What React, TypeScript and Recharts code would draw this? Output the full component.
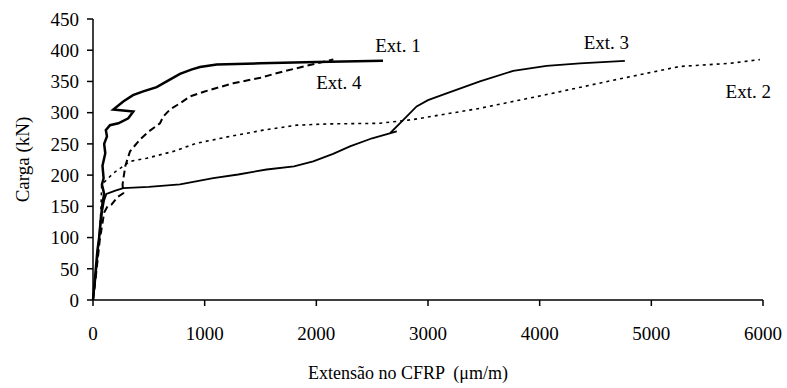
import { LineChart, Line, XAxis, YAxis, Label, ReferenceDot } from "recharts";

type Pt = { x: number; y: number };

const ext1: Pt[] = [
  { x: 0, y: 0 }, { x: 10, y: 20 }, { x: 25, y: 50 }, { x: 40, y: 80 }, { x: 55, y: 100 },
  { x: 70, y: 130 }, { x: 85, y: 155 }, { x: 100, y: 170 }, { x: 80, y: 185 }, { x: 95, y: 195 },
  { x: 85, y: 215 }, { x: 110, y: 235 }, { x: 100, y: 250 }, { x: 125, y: 262 }, { x: 115, y: 272 },
  { x: 152, y: 280 }, { x: 227, y: 283 }, { x: 316, y: 291 }, { x: 361, y: 302 }, { x: 182, y: 305 },
  { x: 271, y: 318 }, { x: 358, y: 328 }, { x: 450, y: 334 }, { x: 570, y: 341 }, { x: 680, y: 352 },
  { x: 779, y: 362 }, { x: 880, y: 369 }, { x: 958, y: 373 }, { x: 1108, y: 377 }, { x: 1500, y: 379 },
  { x: 2000, y: 381 }, { x: 2597, y: 383 },
];

const ext2: Pt[] = [
  { x: 0, y: 0 }, { x: 30, y: 50 }, { x: 55, y: 100 }, { x: 70, y: 140 }, { x: 78, y: 185 },
  { x: 182, y: 203 }, { x: 331, y: 222 }, { x: 481, y: 227 }, { x: 719, y: 238 }, { x: 928, y: 251 },
  { x: 1227, y: 262 }, { x: 1525, y: 272 }, { x: 1823, y: 280 }, { x: 2122, y: 282 }, { x: 2570, y: 283 },
  { x: 2867, y: 289 }, { x: 3465, y: 307 }, { x: 4062, y: 329 }, { x: 4659, y: 352 }, { x: 5255, y: 374 },
  { x: 5703, y: 379 }, { x: 5972, y: 385 },
];

const ext3: Pt[] = [
  { x: 0, y: 0 }, { x: 20, y: 30 }, { x: 40, y: 70 }, { x: 60, y: 110 }, { x: 80, y: 140 },
  { x: 100, y: 160 }, { x: 120, y: 170 }, { x: 152, y: 172 }, { x: 200, y: 175 }, { x: 271, y: 179 },
  { x: 500, y: 181 }, { x: 779, y: 185 }, { x: 1077, y: 195 }, { x: 1300, y: 201 }, { x: 1555, y: 209 },
  { x: 1800, y: 214 }, { x: 1972, y: 222 }, { x: 2150, y: 234 }, { x: 2301, y: 246 }, { x: 2500, y: 259 },
  { x: 2720, y: 270 }, { x: 2659, y: 267 }, { x: 2748, y: 283 }, { x: 2898, y: 310 }, { x: 3000, y: 320 },
  { x: 3166, y: 331 }, { x: 3465, y: 350 }, { x: 3763, y: 367 }, { x: 4062, y: 375 }, { x: 4360, y: 379 },
  { x: 4763, y: 383 },
];

const ext4: Pt[] = [
  { x: 0, y: 0 }, { x: 30, y: 45 }, { x: 60, y: 95 }, { x: 100, y: 140 }, { x: 130, y: 150 },
  { x: 167, y: 153 }, { x: 220, y: 165 }, { x: 271, y: 171 }, { x: 265, y: 185 }, { x: 271, y: 193 },
  { x: 290, y: 215 }, { x: 331, y: 238 }, { x: 421, y: 257 }, { x: 500, y: 270 }, { x: 600, y: 283 },
  { x: 630, y: 294 }, { x: 689, y: 305 }, { x: 779, y: 315 }, { x: 868, y: 326 }, { x: 1000, y: 334 },
  { x: 1256, y: 347 }, { x: 1500, y: 356 }, { x: 1704, y: 366 }, { x: 2003, y: 379 }, { x: 2152, y: 385 },
];

const xTicks = [0, 1000, 2000, 3000, 4000, 5000, 6000];
const yTicks = [0, 50, 100, 150, 200, 250, 300, 350, 400, 450];

// series name tags, placed in data units
const tags = [
  { name: "Ext. 1", x: 2731, y: 408 },
  { name: "Ext. 4", x: 2202, y: 349 },
  { name: "Ext. 3", x: 4597, y: 412 },
  { name: "Ext. 2", x: 5868, y: 335 },
];

const font = "'Liberation Serif', 'Times New Roman', serif";
const tickStyle = { fontSize: 19, fill: "#000", fontFamily: font };

export default function App() {
  return (
    <div style={{ width: 787, height: 388 }}>
      <style>{"body{margin:0}"}</style>
      <LineChart width={787} height={388} margin={{ top: 19, right: 24, bottom: 0, left: 0 }}>
        <XAxis
          type="number"
          dataKey="x"
          domain={[0, 6000]}
          ticks={xTicks}
          height={88}
          tick={tickStyle}
          tickSize={6}
          tickMargin={21}
          stroke="#000"
          strokeWidth={1.5}
        >
          <Label
            content={({ viewBox }: any) => (
              <text
                x={viewBox.x + viewBox.width / 2 - 20}
                y={viewBox.y + viewBox.height - 9}
                textAnchor="middle"
                style={{ fontSize: 18, fill: "#000", fontFamily: font }}
              >
                {"Extensão no CFRP \u00a0(μm/m)"}
              </text>
            )}
          />
        </XAxis>
        <YAxis
          type="number"
          dataKey="y"
          domain={[0, 450]}
          ticks={yTicks}
          width={93}
          tick={tickStyle}
          tickSize={6}
          tickMargin={8}
          stroke="#000"
          strokeWidth={1.5}
        >
          <Label
            content={({ viewBox }: any) => {
              const cx = viewBox.x + 22;
              const cy = viewBox.y + viewBox.height / 2;
              return (
                <text
                  x={cx}
                  y={cy}
                  transform={`rotate(-90, ${cx}, ${cy})`}
                  textAnchor="middle"
                  dominantBaseline="central"
                  style={{ fontSize: 19, fill: "#000", fontFamily: font }}
                >
                  Carga (kN)
                </text>
              );
            }}
          />
        </YAxis>
        <Line data={ext2} dataKey="y" type="linear" stroke="#000" strokeWidth={1.6} strokeDasharray="3 4" dot={false} isAnimationActive={false} />
        <Line data={ext4} dataKey="y" type="linear" stroke="#000" strokeWidth={2} strokeDasharray="7 4" dot={false} isAnimationActive={false} />
        <Line data={ext3} dataKey="y" type="linear" stroke="#000" strokeWidth={1.8} dot={false} isAnimationActive={false} />
        <Line data={ext1} dataKey="y" type="linear" stroke="#000" strokeWidth={2.5} dot={false} isAnimationActive={false} />
        {tags.map((t) => (
          <ReferenceDot
            key={t.name}
            x={t.x}
            y={t.y}
            r={1}
            fill="none"
            stroke="none"
            label={{ value: t.name, position: "center", style: { fontSize: 19, fill: "#000", fontFamily: font } }}
          />
        ))}
      </LineChart>
    </div>
  );
}
